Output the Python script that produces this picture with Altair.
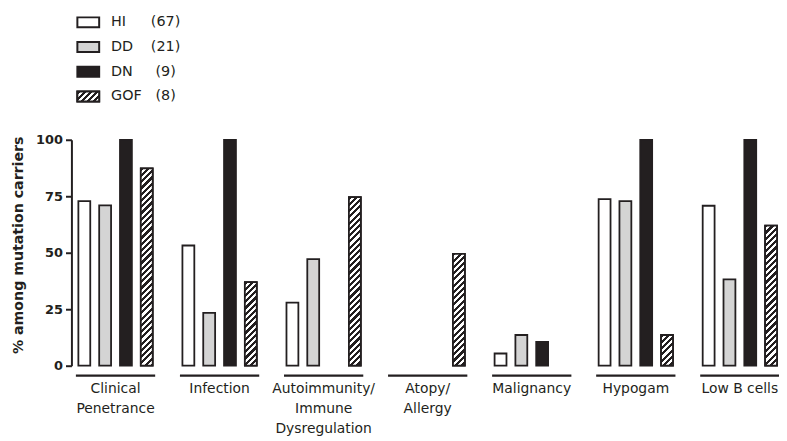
import altair as alt
import pandas as pd

# ---- data ----
categories = ["Clinical Penetrance", "Infection", "Autoimmunity/Immune Dysregulation",
              "Atopy/Allergy", "Malignancy", "Hypogam", "Low B cells"]
category_labels = ["Clinical\nPenetrance", "Infection", "Autoimmunity/\nImmune\nDysregulation",
                   "Atopy/\nAllergy", "Malignancy", "Hypogam", "Low B cells"]
series = ["HI", "DD", "DN", "GOF"]
series_counts = ["(67)", "(21)", "(9)", "(8)"]
hi_values = [72.8, 53.2, 27.9, 0, 5.4, 73.7, 70.8]
dd_values = [71.0, 23.4, 47.2, 0, 13.6, 72.8, 38.2]
dn_values = [100, 100, 0, 0, 10.5, 100, 100]
gof_values = [87.3, 37.0, 74.6, 49.5, 0, 13.6, 62.0]

# ---- styling ----
INK = "#231f20"
fills = ["#ffffff", "#d4d4d4", INK, "#ffffff"]
FONT = "DejaVu Sans"
W, H = 714, 228
BAR_W = 12

values_by_series = dict(zip(series, [hi_values, dd_values, dn_values, gof_values]))
rows = []
for s in series:
    for c, v in zip(categories, values_by_series[s]):
        rows.append({"category": c, "series": s, "value": v})
bars_df = pd.DataFrame(rows)
labels_df = pd.DataFrame({"category": categories, "label": category_labels})
legend_df = pd.DataFrame({"series": series, "count": series_counts})


def hatch(w, h, period=6.3, frac=0.5):
    """Diagonal '/' stripes as a linear gradient in the mark's bounding box."""
    L = w + h
    m = L / (w * w + h * h)
    stops = []
    pos = 0.0
    while pos < L:
        a = pos / L
        b = min((pos + frac * period) / L, 1.0)
        c = min((pos + period) / L, 1.0)
        stops += [{"offset": a, "color": INK}, {"offset": b, "color": INK},
                  {"offset": b, "color": "#ffffff"}, {"offset": c, "color": "#ffffff"}]
        pos += period
    return {"gradient": "linear", "x1": 0, "y1": 0, "x2": m * w, "y2": m * h, "stops": stops}


xscale = alt.Scale(domain=categories, paddingInner=0.2857, paddingOuter=0.0429, align=0.778)
xoff = alt.XOffset("series:N", scale=alt.Scale(domain=series, paddingInner=0.4286, paddingOuter=0))
yscale = alt.Scale(domain=[0, 100])
fill_scale = alt.Scale(domain=series, range=fills)

x_axis = alt.Axis(labels=False, ticks=False, title=None, domainWidth=2, domainColor=INK,
                  grid=False, offset=0)
y_axis = alt.Axis(values=[0, 25, 50, 75, 100], tickSize=6, tickWidth=2, tickColor=INK,
                  domainWidth=2, domainColor=INK, grid=False, offset=0,
                  labelFont=FONT, labelFontSize=13, labelFontWeight="bold", labelColor=INK,
                  labelPadding=3,
                  title="% among mutation carriers", titleFont=FONT, titleFontSize=14.3,
                  titleFontWeight="bold", titleColor=INK, titleAngle=270,
                  titleX=-53.5, titleY=106, titleAlign="center", titleBaseline="middle")

bars = alt.Chart(bars_df).transform_filter(alt.datum.value > 0).mark_bar(
    stroke=INK, strokeWidth=1.8
).encode(
    x=alt.X("category:N", scale=xscale, axis=x_axis, sort=categories),
    xOffset=xoff,
    y=alt.Y("value:Q", scale=yscale, axis=y_axis, stack=None),
    fill=alt.Fill("series:N", scale=fill_scale, legend=None),
)

layers = [bars]
for c, v in zip(categories, gof_values):
    if v <= 0:
        continue
    h = v / 100.0 * H
    layer = alt.Chart(bars_df).transform_filter(
        (alt.datum.series == "GOF") & (alt.datum.category == c)
    ).mark_bar(fill=hatch(BAR_W, h), stroke=INK, strokeWidth=1.8).encode(
        x=alt.X("category:N", scale=xscale, axis=None, sort=categories),
        xOffset=xoff,
        y=alt.Y("value:Q", scale=yscale, axis=None, stack=None),
    )
    layers.append(layer)

underlines = alt.Chart(labels_df).mark_tick(
    orient="horizontal", size=80, thickness=2.5, color=INK, opacity=1
).encode(
    x=alt.X("category:N", scale=xscale, axis=None, sort=categories),
    y=alt.value(238),
)
layers.append(underlines)

cat_text = alt.Chart(labels_df).mark_text(
    baseline="top", align="center", fontSize=14, font=FONT, color=INK,
    lineBreak="\n", lineHeight=20
).encode(
    x=alt.X("category:N", scale=xscale, axis=None, sort=categories),
    y=alt.value(245),
    text="label:N",
)
layers.append(cat_text)

# ---- legend ----
leg_y = alt.Y("series:N", scale=alt.Scale(type="point", domain=series, range=[-118.5, -43.7], padding=0),
              axis=None)
box_path = "M-1,-0.4545H1V0.4545H-1Z"
leg_box = alt.Chart(legend_df).mark_point(
    shape=box_path, size=484, filled=True, stroke=INK, strokeWidth=2, opacity=1
).encode(
    x=alt.value(17), y=leg_y,
    fill=alt.Fill("series:N", scale=fill_scale, legend=None),
)
leg_hatch = alt.Chart(legend_df).transform_filter(alt.datum.series == "GOF").mark_point(
    shape=box_path, size=484, filled=True, fill=hatch(22, 10), stroke=INK, strokeWidth=2, opacity=1
).encode(x=alt.value(17), y=leg_y)
leg_name = alt.Chart(legend_df).mark_text(
    align="left", baseline="middle", fontSize=14.5, font=FONT, color=INK
).encode(x=alt.value(40), y=leg_y, text="series:N")
leg_count = alt.Chart(legend_df).mark_text(
    align="center", baseline="middle", fontSize=14.5, font=FONT, color=INK
).encode(x=alt.value(95), y=leg_y, text="count:N")
layers += [leg_box, leg_hatch, leg_name, leg_count]

chart = alt.layer(*layers).resolve_scale(y="independent").properties(
    width=W, height=H,
    autosize=alt.AutoSizeParams(type="none"),
    padding={"left": 64, "top": 131, "right": 0, "bottom": 74},
    background="white",
).configure_view(strokeWidth=0)

chart.save("out.html", embed_options={"renderer": "svg", "actions": False})
